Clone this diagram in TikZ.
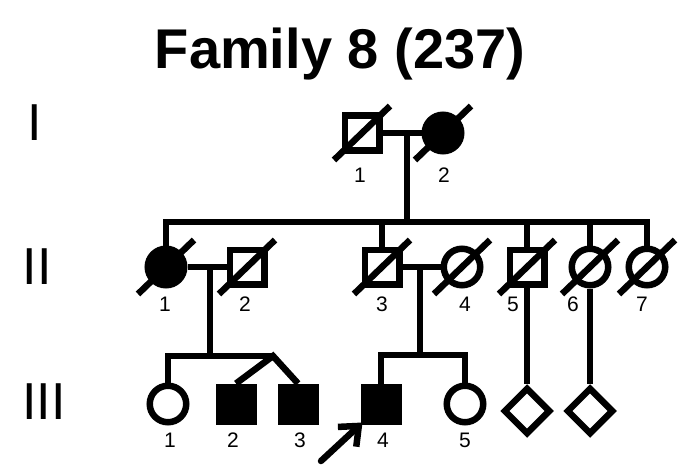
\documentclass[tikz,border=0pt]{standalone}
\usepackage{fontspec}
\setmainfont{Liberation Sans}
\usetikzlibrary{arrows.meta, shapes.geometric}

% slash through a deceased individual
\newcommand{\deceased}[1]{%
  \draw[slash] ([shift={(-28,27)}]#1.center) -- ([shift={(28,-27)}]#1.center);}

\begin{document}
\begin{tikzpicture}[
  x=1pt, y=-1pt,
  line width=6.5pt,
  male/.style={draw, rectangle, minimum size=34.5pt, inner sep=0pt, fill=white},
  female/.style={draw, circle, minimum size=36.5pt, inner sep=0pt, fill=white},
  unknown/.style={draw, diamond, minimum size=47pt, inner sep=0pt, fill=white},
  affected/.style={fill=black},
  num/.style={font=\fontsize{21}{21}\selectfont, inner sep=0pt},
  gen/.style={font=\fontsize{52}{52}\selectfont, inner sep=0pt},
  slash/.style={line width=6.5pt},
  proband/.style={-{Straight Barb[length=16pt,width=27pt]}, line width=6.5pt, line cap=round}
]
\useasboundingbox (0,0) rectangle (685,468);

% Title
\node[font=\bfseries\fontsize{56}{56}\selectfont, anchor=base, inner sep=0pt] (title) at (340,69) {Family 8 (237)};

% Generations
\node[gen] (genI) at (35,123) {I};
\node[gen] (genII) at (37,267) {II};
\node[gen] (genIII) at (44,402) {III};

% Generation I
\node[male] (I1) at (362,133) {};
\node[female, affected] (I2) at (443,133) {};

% Generation II
\node[female, affected] (II1) at (166,267) {};
\node[male] (II2) at (247,267) {};
\node[male] (II3) at (382,267) {};
\node[female] (II4) at (462,267) {};
\node[male] (II5) at (527,267) {};
\node[female] (II6) at (590,267) {};
\node[female] (II7) at (647,267) {};

% Generation III
\node[female] (III1) at (168,404) {};
\node[male, affected] (III2) at (236,404) {};
\node[male, affected] (III3) at (298,404) {};
\node[male, affected] (III4) at (381,404) {};
\node[female] (III5) at (465,404) {};
\node[unknown] (D1) at (527,411) {};
\node[unknown] (D2) at (590,411) {};

% Line points
\coordinate (mI) at (407,133);
\coordinate (sibII) at (407,222);
\coordinate (mIIa) at (210,267);
\coordinate (sibIIIa) at (210,356);
\coordinate (twin) at (273,356);
\coordinate (mIIb) at (420,267);
\coordinate (sibIIIb) at (420,355);
\coordinate (arrTail) at (321,461);

% Lines
\draw (I1) -- (I2);
\draw (mI) -- (sibII);
\draw (II1.north) |- (sibII) -| (II7.north);
\foreach \n in {II3,II5,II6}
  \draw (\n.north) -- (\n.north |- sibII);
\draw (II1) -- (II2);
\draw (mIIa) -- (sibIIIa);
\draw (III1.north) |- (twin);
\draw (III2.north) -- (twin) -- (III3.north);
\draw (II3) -- (II4);
\draw (mIIb) -- (sibIIIb);
\draw (III4.north) |- (sibIIIb) -| (III5.north);
\draw (II5.south) -- (D1.north);
\draw (II6.south) -- (D2.north);

% Deceased
\foreach \n in {I1,I2,II1,II2,II3,II4,II5,II6,II7}
  \deceased{\n};

% Proband
\draw[proband] (arrTail) -- ([shift={(2,-2)}]III4.south west);

% Numbers
\node[num] (nI1) at (360,175) {1};
\node[num] (nI2) at (444,175) {2};
\foreach \x/\t in {165/1,245/2,382/3,465/4,513/5,573/6,642/7}
  \node[num] (nII\t) at (\x,304) {\t};
\foreach \x/\t in {170/1,233/2,300/3,383/4,465/5}
  \node[num] (nIII\t) at (\x,440) {\t};

\end{tikzpicture}
\end{document}
